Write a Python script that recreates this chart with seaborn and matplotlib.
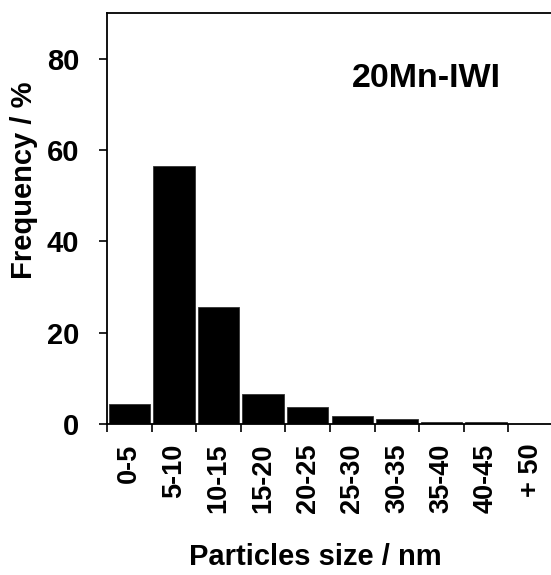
import matplotlib
matplotlib.use("Agg")
import matplotlib.pyplot as plt
import seaborn as sns
import pandas as pd
import numpy as np

categories = ["0-5", "5-10", "10-15", "15-20", "20-25", "25-30", "30-35", "35-40", "40-45", "+ 50"]
frequency = [4.4, 56.4, 25.6, 6.6, 3.8, 1.8, 1.2, 0.4, 0.4, 0.0]
y_ticks = [0, 20, 40, 60, 80]
sample_label = "20Mn-IWI"

sns.set_theme(style="white")
plt.rcParams["font.family"] = ["Liberation Sans", "DejaVu Sans"]
plt.rcParams["font.weight"] = "bold"
plt.rcParams["text.color"] = "black"
plt.rcParams["xtick.color"] = "black"
plt.rcParams["ytick.color"] = "black"
plt.rcParams["axes.labelcolor"] = "black"

df = pd.DataFrame({"size": categories, "freq": frequency})

fig = plt.figure(figsize=(5.51, 5.75), dpi=100)
W, H = 551, 575
ax = fig.add_axes([107 / W, 1 - 424 / H, 446 / W, (424 - 13) / H])

sns.barplot(data=df, x="size", y="freq", color="black", width=0.93,
            edgecolor="#333333", linewidth=0.6, saturation=1, ax=ax)

ax.set_xlim(-0.5, len(categories) - 0.5)
ax.set_ylim(0, 90)
ax.set_yticks(y_ticks)
ax.set_yticklabels([str(v) for v in y_ticks], fontsize=21, fontweight="bold", color="black")
ax.set_xticks(np.arange(len(categories)))
ax.set_xticklabels(categories, rotation=90, fontsize=19.5, fontweight="bold", va="top", color="black")
ax.set_xticks(np.arange(len(categories)) - 0.5, minor=True)

ax.tick_params(axis="x", which="major", length=0, pad=14)
ax.tick_params(axis="x", which="minor", direction="out", length=6, width=1.2, color="black", bottom=True)
ax.tick_params(axis="y", which="major", direction="out", length=6, width=1.2, color="black", left=True, pad=14)

for side in ["left", "bottom", "top", "right"]:
    ax.spines[side].set_visible(True)
    ax.spines[side].set_color("black")
    ax.spines[side].set_linewidth(1.3)

ax.set_xlabel("")
ax.set_ylabel("")
fig.text(315 / W, 1 - 557 / H, "Particles size / nm", ha="center", va="center",
         fontsize=21, fontweight="bold", color="black")
fig.text(24 / W, 1 - 180 / H, "Frequency / %", ha="center", va="center",
         rotation=90, fontsize=21, fontweight="bold", color="black")

ax.text(0.549, 0.82, sample_label, transform=ax.transAxes, ha="left", va="baseline",
        fontsize=24.5, fontweight="bold", color="black")

fig.savefig("out.png", dpi=100)
